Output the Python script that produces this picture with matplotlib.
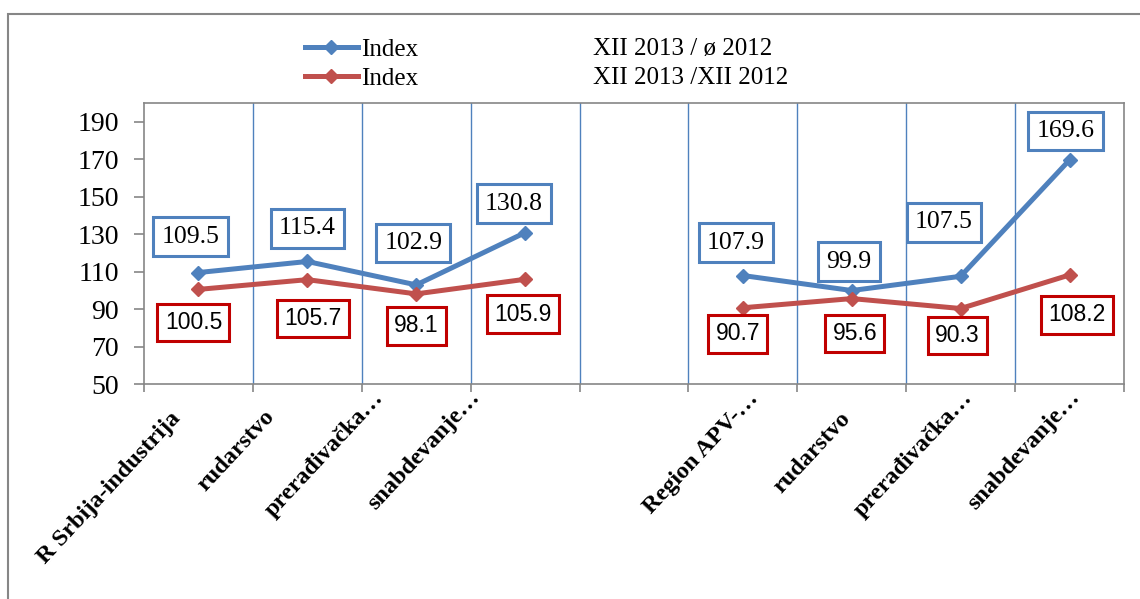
import numpy as np
import matplotlib
matplotlib.use('Agg')
import matplotlib.pyplot as plt
from matplotlib.patches import Rectangle
from matplotlib.transforms import ScaledTranslation

# categories (slot 4 is an empty gap between the two groups)
categories = ['R Srbija-industrija', 'rudarstvo', 'prerađivačka…', 'snabdevanje…', '',
              'Region APV-…', 'rudarstvo', 'prerađivačka…', 'snabdevanje…']
index_avg = [109.5, 115.4, 102.9, 130.8, np.nan, 107.9, 99.9, 107.5, 169.6]
index_dec = [100.5, 105.7, 98.1, 105.9, np.nan, 90.7, 95.6, 90.3, 108.2]
legend_left = ['Index', 'Index']
legend_right = ['XII 2013 / ø 2012', 'XII 2013 /XII 2012']

blue = '#4F81BD'
red = '#C0504D'
dark_red = '#C00000'
grey = '#868686'
serif = 'Liberation Serif'

# label offsets from the point, in pixels (dx, dy with dy pointing down)
blue_off = [(-8, -36), (0, -33), (-3, -42), (-11, -29), None,
            (-7, -33), (-3, -29), (-17, -54), (-4, -29)]
red_off = [(-5, 33), (6, 39), (0, 32), (-2, 35), None,
           (-5, 26), (3, 35), (-3, 27), (7, 40)]
# end of each category label relative to slot centre / axis, pixels
cat_off = [(-17, 35), (-32, 33), (-32, 14), (-44, 14), (0, 0),
           (16, 15), (-1, 35), (12, 14), (11, 14)]

fig = plt.figure(figsize=(11.4, 5.99), dpi=100)
ax = fig.add_axes([144 / 1140, 1 - 384 / 599, 980 / 1140, 281 / 599])

x = np.arange(len(categories))
l1, = ax.plot(x, index_avg, color=blue, lw=3.6, marker='D', ms=7, zorder=3)
l2, = ax.plot(x, index_dec, color=red, lw=3.6, marker='D', ms=7, zorder=3)

px = 0.72  # points per pixel
for i in range(len(categories)):
    if blue_off[i] is not None:
        dx, dy = blue_off[i]
        ax.annotate(f'{index_avg[i]:.1f}', (x[i], index_avg[i]),
                    xytext=(dx * px, -dy * px), textcoords='offset points',
                    ha='center', va='center', fontsize=18.5, family=serif,
                    bbox=dict(boxstyle='square,pad=0.32', fc='white', ec=blue, lw=2.2),
                    zorder=5)
    if red_off[i] is not None:
        dx, dy = red_off[i]
        ax.annotate(f'{index_dec[i]:.1f}', (x[i], index_dec[i]),
                    xytext=(dx * px, -dy * px), textcoords='offset points',
                    ha='center', va='center', fontsize=16.5, family='Liberation Sans',
                    bbox=dict(boxstyle='square,pad=0.32', fc='white', ec=dark_red, lw=2.2),
                    zorder=5)

ax.set_xlim(-0.5, len(categories) - 0.5)
ax.set_ylim(50, 200)
ax.set_yticks(np.arange(50, 191, 20))
ax.tick_params(axis='y', direction='out', length=7, width=1.2, color=grey, pad=11,
               labelsize=20)
for t in ax.get_yticklabels():
    t.set_family(serif)

# ticks and vertical grid at category boundaries
bounds = np.arange(-0.5, len(categories), 1.0)
ax.set_xticks(bounds)
ax.set_xticklabels([])
ax.tick_params(axis='x', direction='out', length=6, width=1.2, color=grey)
for b in bounds[1:-1]:
    ax.axvline(b, color=blue, lw=1.0, zorder=1)

# category labels, rotated
for i, name in enumerate(categories):
    dx, dy = cat_off[i]
    off = ScaledTranslation(dx / 100, -dy / 100, fig.dpi_scale_trans)
    ax.text(x[i], 50, name, rotation=47, rotation_mode='anchor', ha='right', va='baseline',
            fontsize=17.5, fontweight='bold', family=serif,
            transform=ax.transData + off, clip_on=False)

for s in ax.spines.values():
    s.set_color(grey)
    s.set_linewidth(1.2)

# legend
fig.legend([l1, l2], legend_left, loc='upper left',
           bbox_to_anchor=(305 / 1140, 1 - 38 / 599), frameon=False,
           prop={'family': serif, 'size': 18}, handlelength=2.1, handletextpad=0.15,
           borderpad=0, borderaxespad=0, labelspacing=0.28)
for j, txt in enumerate(legend_right):
    fig.text(593 / 1140, 1 - (49 + 29 * j) / 599, txt, ha='left', va='center',
             fontsize=18, family=serif)

# outer chart border
fig.patches.append(Rectangle((8 / 1140, -0.05), 1.2, 585 / 599 + 0.05,
                             transform=fig.transFigure, fill=False, ec=grey, lw=1.5))

fig.savefig('out.png', dpi=100)
